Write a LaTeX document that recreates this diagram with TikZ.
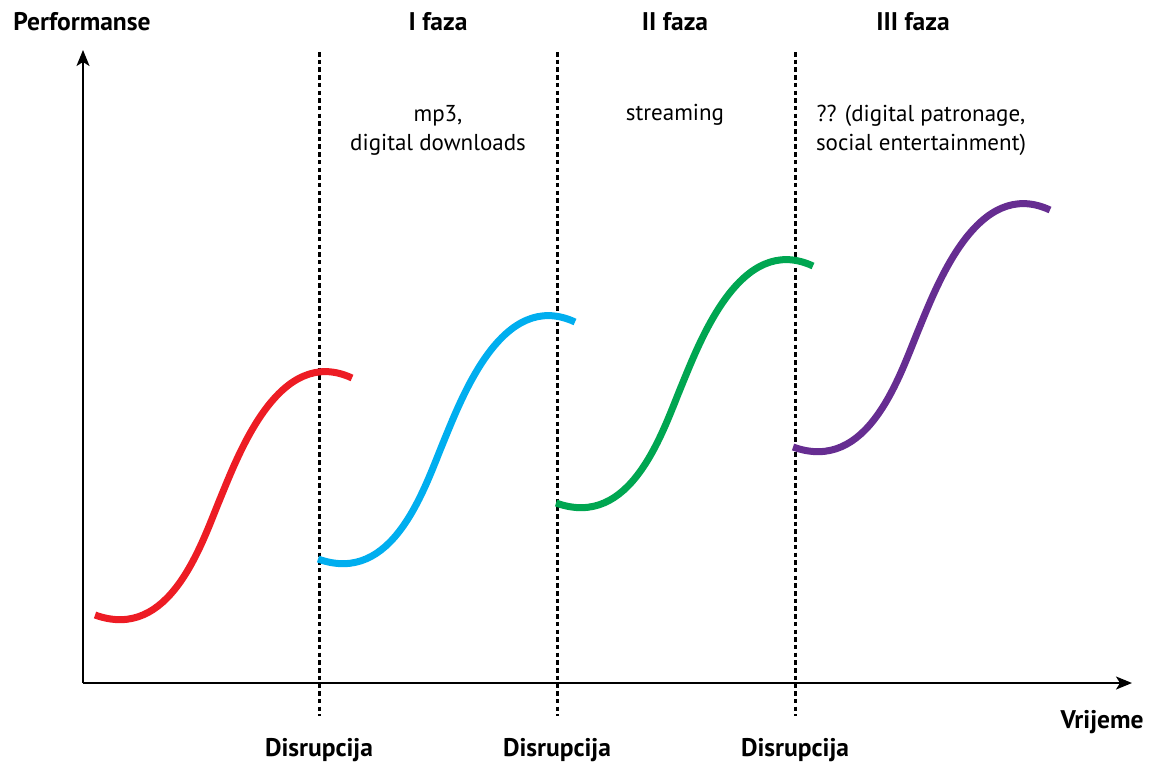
\documentclass[tikz,border=0pt]{standalone}
\usepackage{fontspec}
\setmainfont{PT Sans}
\usetikzlibrary{arrows.meta}
\definecolor{cred}{HTML}{ED1C24}
\definecolor{cblue}{HTML}{00AEEF}
\definecolor{cgreen}{HTML}{00A651}
\definecolor{cpurple}{HTML}{662D91}
\tikzset{
  axisline/.style={line width=1.8pt,-{Stealth[length=16pt,width=13pt,inset=4pt]}},
  divider/.style={line width=3pt,dash pattern=on 4.5pt off 3.2pt},
  scurve/.style={line width=7pt},
  boldlbl/.style={font=\fontsize{25.5}{30}\selectfont\bfseries,inner sep=0pt},
  txtlbl/.style={font=\fontsize{23}{29}\selectfont,inner sep=0pt,align=center},
}
\newcommand{\sshape}{(0,0) .. controls (75,-27) and (106,70) .. (125,116) .. controls (144,162) and (184.5,270.8) .. (257,237)}
\begin{document}
\begin{tikzpicture}[x=1pt,y=1pt]
\useasboundingbox (0,0) rectangle (1155,-764);
\coordinate (O) at (83,-683);
\coordinate (ytop) at (83,-50);
\coordinate (xend) at (1132,-683);
\draw[axisline] (O) -- (ytop);
\draw[axisline] (O) -- (xend);
\foreach \n/\x in {d1/319,d2/557,d3/795}{
  \coordinate (\n t) at (\x,-52);
  \coordinate (\n b) at (\x,-716);
  \draw[divider] (\n t) -- (\n b);
}
\node[boldlbl] (perf) at (82,-22) {Performanse};
\node[boldlbl] (vrij) at (1102,-722) {Vrijeme};
\node[boldlbl] (dis1) at (319,-750) {Disrupcija};
\node[boldlbl] (dis2) at (557,-750) {Disrupcija};
\node[boldlbl] (dis3) at (795,-750) {Disrupcija};
\node[boldlbl] (f1) at (438,-22) {I faza};
\node[boldlbl] (f2) at (675,-22) {II faza};
\node[boldlbl] (f3) at (913,-22) {III faza};
\node[txtlbl] (t1) at (438,-130) {mp3,\\digital downloads};
\node[txtlbl] (t2) at (675,-115) {streaming};
\node[txtlbl] (t3) at (921,-130) {?? (digital patronage,\\social entertainment)};
\begin{scope}[shift={(95,-615)}]\draw[scurve,cred] \sshape;\end{scope}
\begin{scope}[shift={(318,-559)}]\draw[scurve,cblue] \sshape;\end{scope}
\begin{scope}[shift={(556,-503)}]\draw[scurve,cgreen] \sshape;\end{scope}
\begin{scope}[shift={(793,-447)}]\draw[scurve,cpurple] \sshape;\end{scope}
\end{tikzpicture}
\end{document}
